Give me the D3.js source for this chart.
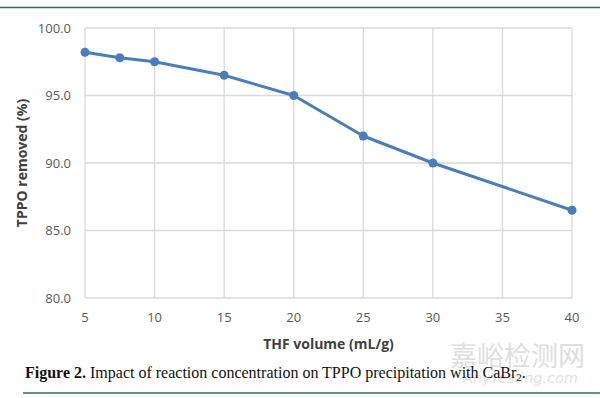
<!DOCTYPE html>
<html>
<head>
<meta charset="utf-8">
<script src="https://cdn.jsdelivr.net/npm/d3@7.9.0/dist/d3.min.js"></script>
<style>
  html, body { margin: 0; padding: 0; background: #fff; }
  svg { display: block; }
</style>
</head>
<body>
<svg id="chart" width="600" height="398"></svg>
<script>
// ---- data ----
const thfVolume = [5, 7.5, 10, 15, 20, 25, 30, 40];
const tppoRemoved = [98.2, 97.8, 97.5, 96.5, 95.0, 92.0, 90.0, 86.5];
const xTicks = [5, 10, 15, 20, 25, 30, 35, 40];
const yTicks = [80, 85, 90, 95, 100];

const svg = d3.select('#chart');
const m = { left: 85, right: 28, top: 28, bottom: 100 };
const W = 600, H = 398;

const x = d3.scaleLinear().domain([5, 40]).range([m.left, W - m.right]);
const y = d3.scaleLinear().domain([80, 100]).range([H - m.bottom, m.top]);

// green rules top / bottom
svg.append('line').attr('x1', 0).attr('x2', W).attr('y1', 7.5).attr('y2', 7.5)
  .attr('stroke', '#2f6d58').attr('stroke-width', 1.5);
svg.append('line').attr('x1', 23).attr('x2', 600).attr('y1', 393).attr('y2', 393)
  .attr('stroke', '#2f6d58').attr('stroke-width', 1.5);

// grid
const grid = svg.append('g').attr('stroke', '#d9d9d9').attr('stroke-width', 1.3);
grid.selectAll('.h').data(yTicks).enter().append('line')
  .attr('x1', x(5)).attr('x2', x(40))
  .attr('y1', d => y(d)).attr('y2', d => y(d));
grid.selectAll('.v').data(xTicks).enter().append('line')
  .attr('x1', d => x(d)).attr('x2', d => x(d))
  .attr('y1', y(100)).attr('y2', y(80));

// tick labels
svg.append('g').selectAll('text').data(yTicks).enter().append('text')
  .attr('x', 71).attr('y', d => y(d) + 4.5)
  .attr('text-anchor', 'end')
  .attr('font-family', 'Open Sans, Liberation Sans, sans-serif').attr('font-size', 13)
  .attr('fill', '#595959')
  .text(d => d.toFixed(1));

svg.append('g').selectAll('text').data(xTicks).enter().append('text')
  .attr('x', d => x(d)).attr('y', y(80) + 24)
  .attr('text-anchor', 'middle')
  .attr('font-family', 'Open Sans, Liberation Sans, sans-serif').attr('font-size', 13)
  .attr('fill', '#595959')
  .text(d => d);

// axis titles
svg.append('text')
  .attr('transform', `translate(27,${(y(80) + y(100)) / 2}) rotate(-90)`)
  .attr('text-anchor', 'middle')
  .attr('font-family', 'Open Sans, Liberation Sans, sans-serif').attr('font-size', 14)
  .attr('font-weight', 'bold').attr('fill', '#404040')
  .text('TPPO removed (%)');

svg.append('text')
  .attr('x', (x(5) + x(40)) / 2).attr('y', 349)
  .attr('text-anchor', 'middle')
  .attr('font-family', 'Open Sans, Liberation Sans, sans-serif').attr('font-size', 14)
  .attr('font-weight', 'bold').attr('fill', '#404040')
  .text('THF volume (mL/g)');

// watermark
svg.append('text')
  .attr('x', 450).attr('y', 366)
  .attr('font-family', 'Noto Sans CJK SC, sans-serif').attr('font-size', 27)
  .attr('fill', '#dedede')
  .text('嘉峪检测网');
svg.append('text')
  .attr('x', 463).attr('y', 383)
  .attr('font-family', 'DejaVu Sans, sans-serif').attr('font-size', 14.5)
  .attr('font-style', 'italic').attr('fill', '#e2e2e2')
  .text('AnyTesting.com');

// series
const pts = thfVolume.map((v, i) => [v, tppoRemoved[i]]);
svg.append('path').datum(pts)
  .attr('fill', 'none').attr('stroke', '#4a7ebb').attr('stroke-width', 3)
  .attr('stroke-linejoin', 'round')
  .attr('d', d3.line().x(d => x(d[0])).y(d => y(d[1])));
svg.append('g').selectAll('circle').data(pts).enter().append('circle')
  .attr('cx', d => x(d[0])).attr('cy', d => y(d[1])).attr('r', 4.5)
  .attr('fill', '#4a7ebb');

// caption
const cap = svg.append('text')
  .attr('x', 25).attr('y', 378)
  .attr('font-family', 'Liberation Serif, serif').attr('font-size', 16)
  .attr('fill', '#111');
cap.append('tspan').attr('font-weight', 'bold').text('Figure 2.');
cap.append('tspan').text(' Impact of reaction concentration on TPPO precipitation with CaBr');
cap.append('tspan').attr('font-size', 11).attr('dy', 3).text('2');
cap.append('tspan').attr('dy', -3).text('.');
</script>
</body>
</html>
